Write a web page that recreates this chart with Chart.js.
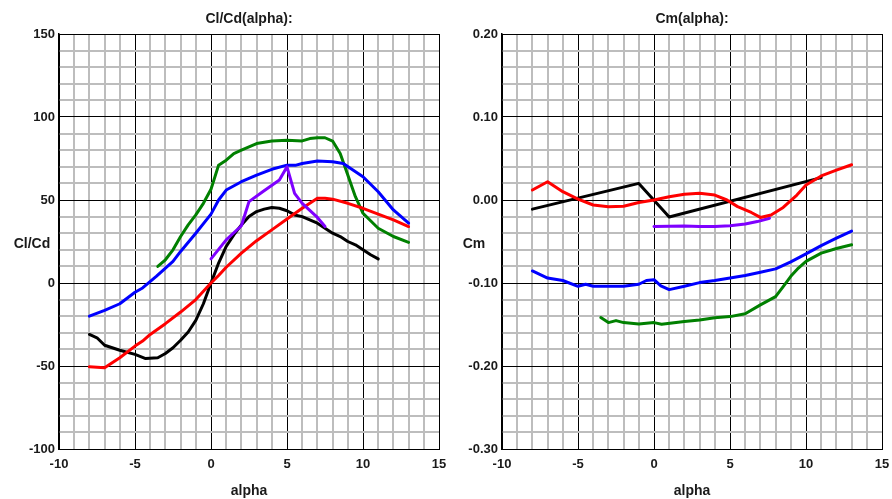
<!DOCTYPE html>
<html><head><meta charset="utf-8">
<script src="https://cdn.jsdelivr.net/npm/chart.js@4"></script>
<style>
html,body{margin:0;padding:0;background:#fff;}
#wrap{position:relative;width:892px;height:499px;overflow:hidden;background:#fff;}
canvas{position:absolute;top:0;}
#c1{left:0;} #c2{left:446px;}
</style></head><body>
<div id="wrap"><canvas id="c1" width="446" height="499"></canvas><canvas id="c2" width="446" height="499"></canvas></div>
<script>
// ---------- Cl/Cd(alpha) ----------
const ldBlackAlpha = [-8,-7.5,-7,-6,-5,-4.3,-3.5,-3,-2.5,-2,-1.5,-1,-0.5,0,0.5,1,1.5,2,2.5,3,3.5,4,4.5,5,5.5,6,6.5,7,7.5,8,8.5,9,9.5,10,10.5,11];
const ldBlack      = [-31,-33,-37.5,-40.5,-43,-45.5,-45,-42.5,-39,-34.5,-29.5,-22.5,-12.5,0,12,22,29,35,40,43,44.5,45.5,45,43.5,41,40,38,36,33,30,28,25,23,20,17,14.5];
const ldRedAlpha   = [-8,-7,-6.5,-6,-5,-4.5,-4,-3,-2,-1,-0.5,0,0.5,1,2,3,4,5,6,7,7.5,8,9,10,11,12,13];
const ldRed        = [-50.5,-51,-48,-45,-38,-35,-31,-24.5,-17.5,-10,-5,0,4.5,9.5,18,25.5,32,38.5,45,51,51,50.5,48,45,41.5,38,34];
const ldGreenAlpha = [-3.5,-3,-2.5,-2,-1.5,-1,-0.5,0,0.5,1,1.5,2,3,4,5,6,6.5,7,7.5,8,8.5,9,9.5,10,11,12,13];
const ldGreen      = [10,14,20,28,35,41,48,56.5,71,74,78,80,84,85.5,86,85.6,87,87.5,87.5,85.5,78,65,52,42,33,28,24.5];
const ldBlueAlpha  = [-8,-7,-6,-5,-4.5,-3.6,-2.5,-2,-1,0,0.5,1,2,3,4,5,5.6,6,7,8,8.7,10,11,12,13];
const ldBlue       = [-20,-16.5,-12.5,-5.6,-3,4,13,19,30,41.5,50,56,61,65,68.5,71,71,72,73.5,73,72,64,55,44,36];
const ldPurpleAlpha= [0,1,2,2.5,3.4,4.5,5,5.5,6,7,7.5];
const ldPurple     = [14.5,26,34.5,49,55,62,70,54,48,39.5,34];

// ---------- Cm(alpha) ----------
const cmBlackAlpha = [-8,-1,1,11];
const cmBlack      = [-0.011,0.020,-0.0205,0.027];
const cmRedAlpha   = [-8,-7,-6,-5,-4,-3,-2,-1,0,1,2,3,4,4.8,5.5,6.4,7,7.7,8.5,9.4,10,11,12,13];
const cmRed        = [0.012,0.022,0.010,0.001,-0.006,-0.008,-0.0075,-0.003,0,0.004,0.007,0.008,0.006,0,-0.008,-0.015,-0.021,-0.018,-0.009,0.006,0.018,0.029,0.036,0.0425];
const cmPurpleAlpha= [0,2,3,4,5,6,6.8,7.6];
const cmPurple     = [-0.032,-0.0313,-0.032,-0.032,-0.031,-0.029,-0.026,-0.022];
const cmBlueAlpha  = [-8,-7,-6,-5,-4.5,-4,-3,-2,-1,-0.5,0,0.45,1,2,3,4,5,6,7,8,9,10,11,12,13];
const cmBlue       = [-0.0855,-0.094,-0.097,-0.104,-0.1015,-0.104,-0.104,-0.104,-0.1015,-0.097,-0.096,-0.1035,-0.108,-0.104,-0.0995,-0.097,-0.094,-0.091,-0.087,-0.083,-0.0745,-0.065,-0.055,-0.046,-0.0375];
const cmGreenAlpha = [-3.5,-3,-2.5,-2,-1,0,0.5,2,3,4,5,6,7,8,8.5,9,9.5,10,11,12,13];
const cmGreen      = [-0.1417,-0.1477,-0.1453,-0.1477,-0.1493,-0.1477,-0.1497,-0.1465,-0.1445,-0.142,-0.1405,-0.137,-0.1264,-0.1164,-0.1043,-0.092,-0.082,-0.074,-0.064,-0.0585,-0.054];

const xTicks = [-10,-5,0,5,10,15];
const ldTicks = [-100,-50,0,50,100,150];
const cmTicks = [-0.30,-0.20,-0.10,0.00,0.10,0.20];

const COLORS = {black:'#000000', red:'#ff0000', green:'#008000', blue:'#0000ff', purple:'#7f00ff'};
const FONT = '"Liberation Sans", Arial, sans-serif';
const TXT = '#1a1a1a';

function pts(xs, ys){ return xs.map((x,i)=>({x:x, y:ys[i]})); }
function ds(xs, ys, color){
  return {data: pts(xs, ys), borderColor: color, backgroundColor: color, borderWidth: 3,
          pointRadius: 0, tension: 0, fill: false, showLine: true, borderJoinStyle:'round', borderCapStyle:'round'};
}

const textPlugin = {
  id: 'txt',
  afterDraw(chart, args, opts){
    const {ctx, chartArea: ca} = chart;
    ctx.save();
    ctx.fillStyle = TXT;
    ctx.font = 'bold 14px ' + FONT;
    ctx.textAlign = 'center';
    ctx.textBaseline = 'alphabetic';
    const cx = (ca.left + ca.right) / 2;
    ctx.fillText(opts.title, cx, 23);
    ctx.fillText(opts.xLabel, cx, 495);
    ctx.fillText(opts.yLabel, opts.yLabelX, 248);
    ctx.restore();
  }
};

function isMajor(v, list){ return list.some(t => Math.abs(t - v) < 1e-6); }

function makeChart(id, datasets, yMin, yMax, yStep, yMajor, yFmt, yWidth, padRight, title, yLabel, yLabelX){
  return new Chart(document.getElementById(id), {
    type: 'line',
    data: {datasets: datasets},
    plugins: [textPlugin],
    options: {
      responsive: false, animation: false, devicePixelRatio: 1,
      layout: {padding: {left: 0, right: padRight, top: 34, bottom: 0}},
      plugins: {legend: {display: false}, tooltip: {enabled: false}, title: {display: false},
                txt: {title: title, xLabel: 'alpha', yLabel: yLabel, yLabelX: yLabelX}},
      scales: {
        x: {type: 'linear', min: -10, max: 15,
            ticks: {stepSize: 1, autoSkip: false, maxRotation: 0, padding: 8, color: TXT,
                    font: {family: FONT, size: 13, weight: 'bold'},
                    callback: v => isMajor(v, xTicks) ? String(v) : ''},
            grid: {drawTicks: false,
                   color: c => isMajor(c.tick.value, xTicks) ? '#000000' : '#bdbdbd',
                   lineWidth: c => isMajor(c.tick.value, xTicks) ? 1 : 2},
            border: {display: true, color: '#000', width: 1},
            afterFit: s => { s.height = 50; s.paddingLeft = 0; s.paddingRight = 0; }},
        y: {type: 'linear', min: yMin, max: yMax,
            ticks: {stepSize: yStep, autoSkip: false, padding: 4, color: TXT,
                    font: {family: FONT, size: 13, weight: 'bold'},
                    callback: v => isMajor(v, yMajor) ? yFmt(v) : ''},
            grid: {drawTicks: false,
                   color: c => isMajor(c.tick.value, yMajor) ? '#000000' : '#bdbdbd',
                   lineWidth: c => isMajor(c.tick.value, yMajor) ? 1 : 2},
            border: {display: true, color: '#000', width: 1.5},
            afterFit: s => { s.width = yWidth; s.paddingTop = 0; s.paddingBottom = 0; }}
      }
    }
  });
}

makeChart('c1', [
  ds(ldPurpleAlpha, ldPurple, COLORS.purple),
  ds(ldRedAlpha, ldRed, COLORS.red),
  ds(ldBlueAlpha, ldBlue, COLORS.blue),
  ds(ldGreenAlpha, ldGreen, COLORS.green),
  ds(ldBlackAlpha, ldBlack, COLORS.black)
], -100, 150, 10, ldTicks, v => String(Math.round(v)), 59, 7, 'Cl/Cd(alpha):', 'Cl/Cd', 32);

makeChart('c2', [
  ds(cmRedAlpha, cmRed, COLORS.red),
  ds(cmPurpleAlpha, cmPurple, COLORS.purple),
  ds(cmBlueAlpha, cmBlue, COLORS.blue),
  ds(cmGreenAlpha, cmGreen, COLORS.green),
  ds(cmBlackAlpha, cmBlack, COLORS.black)
], -0.3, 0.2, 0.02, cmTicks, v => (Math.abs(v) < 1e-9 ? 0 : v).toFixed(2), 56, 10, 'Cm(alpha):', 'Cm', 28);
</script>
</body></html>
